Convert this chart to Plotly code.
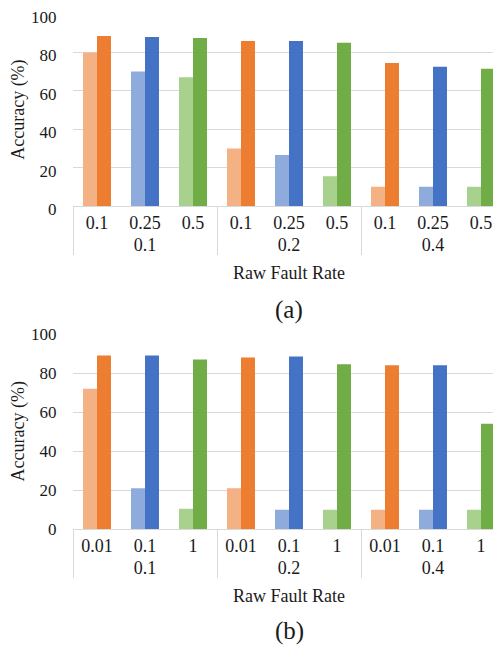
import plotly.graph_objects as go
from plotly.subplots import make_subplots

# ---- data ----
outer_labels = ["0.1", "0.1", "0.1", "0.2", "0.2", "0.2", "0.4", "0.4", "0.4"]
inner_labels_a = ["0.1", "0.25", "0.5"] * 3
inner_labels_b = ["0.01", "0.1", "1"] * 3

light_a = [80, 70, 67, 30, 26.5, 15.5, 10, 10, 10]
dark_a = [88.5, 88, 87.5, 86, 86, 85, 74.5, 72.5, 71.5]

light_b = [72, 21, 10.5, 21, 10, 10, 10, 10, 10]
dark_b = [89, 89, 87, 88, 88.5, 84.5, 84, 84, 54]

light_colors = ["#F4B183", "#8FAADC", "#A9D18E"] * 3
dark_colors = ["#ED7D31", "#4472C4", "#70AD47"] * 3

FONT = "Liberation Serif"
FS = 18
TFS = 17
H = 648
OFF = 8   # page body margin offset
T = 4     # top margin of the figure
B = 0
YMAX = 100.4

fig = make_subplots(rows=2, cols=1)

for row, inner, light, dark in [(1, inner_labels_a, light_a, dark_a),
                                (2, inner_labels_b, light_b, dark_b)]:
    fig.add_trace(go.Bar(x=[outer_labels, inner], y=light,
                         marker=dict(color=light_colors, line=dict(width=0)),
                         showlegend=False), row=row, col=1)
    fig.add_trace(go.Bar(x=[outer_labels, inner], y=dark,
                         marker=dict(color=dark_colors, line=dict(width=0)),
                         showlegend=False), row=row, col=1)

def py(px):
    return 1 - (px - OFF - T) / (H - T - B)

# pixel rows of y=100 and y=0 in each panel
top_a, bot_a = 14, 206
top_b, bot_b = 334, 529.3
ext_a = top_a - (YMAX - 100) * (bot_a - top_a) / 100
ext_b = top_b - (YMAX - 100) * (bot_b - top_b) / 100

fig.update_layout(
    width=501, height=H,
    margin=dict(l=73 - OFF, r=4, t=T, b=B),
    paper_bgcolor="white", plot_bgcolor="white",
    barmode="group", bargap=0.417, bargroupgap=0,
    font=dict(family=FONT, size=FS, color="#1a1a1a"),
    yaxis=dict(domain=[py(bot_a), py(ext_a)], ticklabelshift=3),
    yaxis2=dict(domain=[py(bot_b), py(ext_b)]),
)

for i in (1, 2):
    fig.update_yaxes(range=[0, YMAX], tickvals=[0, 20, 40, 60, 80, 100],
                     showgrid=True, gridcolor="#d9d9d9",
                     gridwidth=1, zeroline=False, showline=False,
                     ticks="outside", ticklen=12, tickcolor="rgba(0,0,0,0)",
                     automargin=False, ticklabeloverflow="allow",
                     tickfont=dict(family=FONT, size=TFS, color="#1a1a1a"),
                     title=dict(text="Accuracy (%)", font=dict(family=FONT, size=FS),
                                standoff=5),
                     row=i, col=1)
    fig.update_xaxes(type="multicategory", showline=True, linecolor="#d9d9d9",
                     linewidth=1, showgrid=False, ticks="",
                     automargin=False,
                     showdividers=True, dividercolor="#d9d9d9", dividerwidth=1,
                     tickfont=dict(family=FONT, size=FS, color="#1a1a1a"),
                     title=dict(text="Raw Fault Rate", font=dict(family=FONT, size=FS),
                                standoff=12),
                     row=i, col=1)

fig.add_annotation(text="(a)", x=0.5, y=py(310), xref="paper", yref="paper",
                   xanchor="center", yanchor="middle", showarrow=False,
                   font=dict(family=FONT, size=25, color="#1a1a1a"))
fig.add_annotation(text="(b)", x=0.5, y=py(631), xref="paper", yref="paper",
                   xanchor="center", yanchor="middle", showarrow=False,
                   font=dict(family=FONT, size=25, color="#1a1a1a"))

fig.write_html("out.html")
